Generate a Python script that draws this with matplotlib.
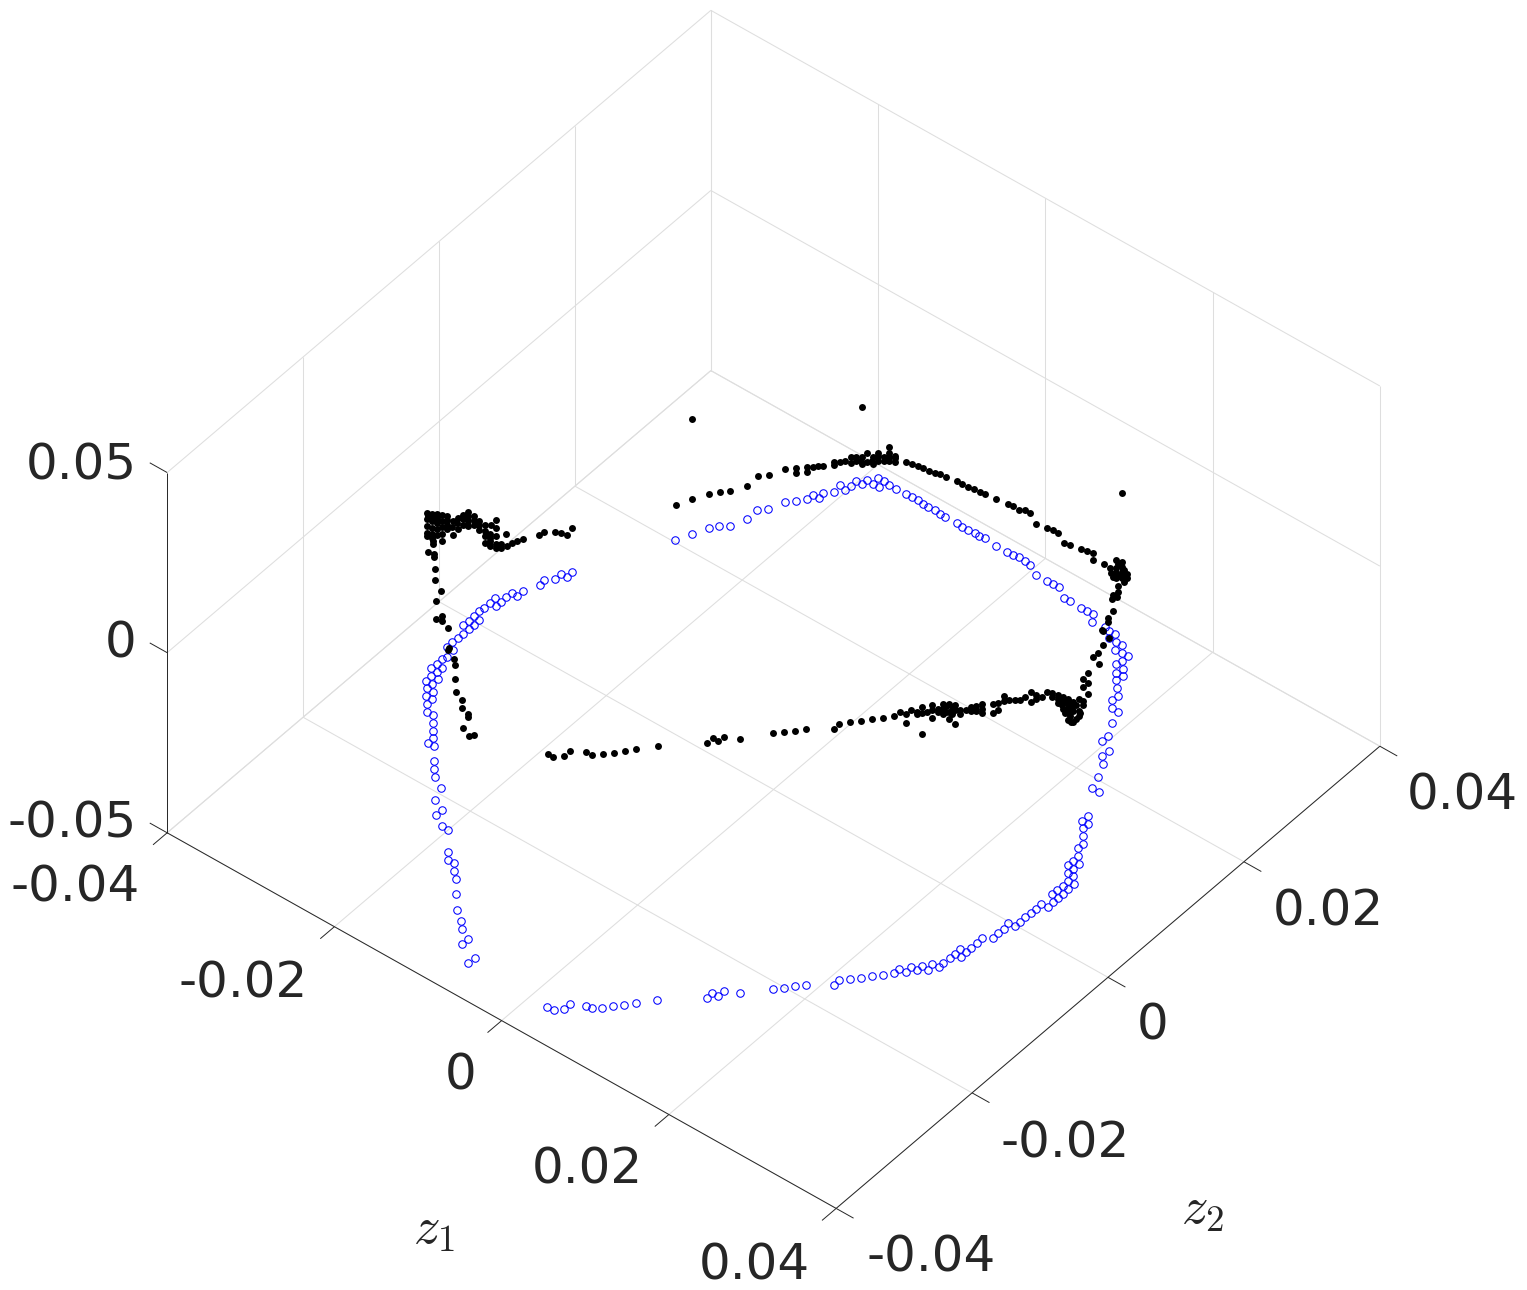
import numpy as np
import matplotlib
matplotlib.use("Agg")
import matplotlib.pyplot as plt
from mpl_toolkits.mplot3d import proj3d

# Embedding coordinates, stored in units of 1e-5
z1_blue = [
    -3288, -3286, -3356, -3357, -3428, -3416, -3491, -3488, -3554, -3559, -3549, -3553, -3626, -3628, -3621, -3629, -3623, -3554, -3547, -3619, -3626, -3552,
    -3553, -3555, -3560, -3563, -3490, -3479, -3493, -3418, -3492, -3497, -3418, -3425, -3350, -3421, -3350, -3351, -3282, -3292, -3220, -3220, -3153, -3082,
    -3014, -2949, -2884, -2882, -2810, -2681, -2616, -2544, -2413, -2347, -2212, -2208, -2075, -2003, -1810, -1743, -1674, -1607, -1529, -1399, -1260, -1137,
    -1060, -932, -933, -720, -730, 208, 282, 350, 346, 483, 547, 615, 681, 748, 817, 944, 1288, 1279, 1350, 1353, 1483, 1687,
    1762, 1821, 1891, 2093, 2085, 2158, 2229, 2291, 2362, 2424, 2424, 2498, 2492, 2564, 2566, 2637, 2622, 2696, 2693, 2697, 2699, 2768,
    2695, 2762, 2769, 2763, 2759, 2833, 2832, 2837, 2822, 2896, 2896, 2896, 2902, 2901, 2897, 2968, 2965, 2897, 2965, 2891, 2971, 2896,
    2970, 2964, 2900, 2894, 2831, 2829, 2761, 2832, 2763, 2759, 2694, 2688, 2623, 2557, 2558, 2485, 2490, 2283, 2366, 203, 274, 338,
    469, 543, 678, 746, 814, 875, 1014, 1071, 1142, 1134, 1210, 1281, 1277, 1346, 1417, 1416, 1406, 1491, 1476, 1555, 1543, 1618,
    1686, 1685, 1750, 1820, 1879, 1956, 1954, 2089, 2085, 2160, 2229, -2098, -2018, -2015, -2019, -1950, -1944, -1876, -1884, -1819, -1807, -1745,
    -1668, -1544, -1476, -1412, -1338, -1276, -1205, -1136, -1075, -935, -868, -799, -728, -669, -604, -462, -333, -264, -201, -131, -57, 75,
    -2821, -2746, -2682, -2622, -2548, -2480, -2486, -2418, -2351, -2278, -2216, -2213, -2142, -2154, -2080,
]
z2_blue = [
    1085, 1000, 1007, 920, 845, 763, 605, 522, 520, 447, 357, 285, 363, 288, 200, 137, 51, 44, -37, -32, -107, -115,
    -192, -267, -345, -424, -426, -527, -584, -667, -658, -731, -741, -821, -818, -899, -898, -974, -975, -1057, -1057, -1136, -1214, -1213,
    -1296, -1376, -1456, -1533, -1533, -1692, -1771, -1844, -1927, -2087, -2160, -2243, -2324, -2324, -2556, -2639, -2635, -2718, -2793, -2953, -3109, -3193,
    -3273, -3342, -3429, -3504, -3591, -3587, -3579, -3507, -3423, -3347, -3346, -3274, -3193, -3115, -3031, -2870, -2557, -2478, -2472, -2396, -2312, -2078,
    -2008, -1918, -1844, -1680, -1596, -1524, -1450, -1365, -1290, -1205, -1131, -1128, -1047, -1047, -977, -976, -890, -882, -815, -726, -650, -651,
    -568, -570, -496, -409, -332, -261, -176, -103, -22, -14, 60, 141, 214, 293, 375, 382, 460, 537, 534, 618, 608, 691,
    683, 774, 769, 850, 850, 930, 931, 1006, 1007, 1089, 1169, 1245, 1330, 1407, 1484, 1481, 1567, 1880, 1872, 3777, 3778, 3779,
    3695, 3697, 3693, 3697, 3693, 3612, 3632, 3621, 3627, 3539, 3544, 3545, 3456, 3465, 3466, 3379, 3308, 3302, 3222, 3222, 3144, 3066,
    2989, 2910, 2830, 2823, 2671, 2510, 2432, 2360, 2271, 2193, 2036, 3558, 3537, 3614, 3696, 3695, 3770, 3766, 3858, 3858, 3770, 3849,
    3848, 3852, 3856, 3857, 3848, 3846, 3852, 3850, 3848, 3848, 3844, 3848, 3854, 3850, 3858, 3845, 3847, 3851, 3862, 3856, 3847, 3772,
    2026, 2183, 2345, 2428, 2498, 2664, 2819, 2897, 3061, 3137, 3222, 3298, 3299, 3381, 3452,
]
z1_black = [
    -2819, -2750, -2679, -2614, -2546, -2479, -2487, -2422, -2364, -2302, -2263, -2237, -2195, -2200, -2171, -2139, -2101, -2073, -2064, -2040, -2036, -1985,
    -2001, -1964, -1908, -1961, -1885, -1885, -1828, -1839, -1789, -1816, -1732, -1695, -1691, -1640, -1540, -1477, -1409, -1342, -1270, -1207, -1146, -1072,
    -950, -886, -803, -739, -667, -609, -466, -327, -259, -178, -126, -57, 80, 202, 271, 333, 469, 536, 674, 744, 812, 874,
    1006, 1099, 1160, 1212, 1147, 1191, 1212, 1250, 1271, 1339, 1310, 1351, 1391, 1404, 1391, 1435, 1448, 1506, 1504, 1690, 1858, 1961,
    1976, 1995, 2086, 2096, 2236, 2277, 2442, 2362, 2418, 2417, 2476, 2554, 2467, 2526, 2545, 2514, 2561, 2747, 2579, 2543, 2591, 2656,
    2604, 2585, 2627, 2675, 2611, 2682, 2738, 2646, 2694, 2806, 2712, 2752, 2726, 2716, 2750, 2724, 2763, 2717, 2759, 2793, 2792, 2871,
    2820, 2885, 2804, 2843, 2860, 2884, 2905, 2892, 2852, 2936, 2868, 2904, 2900, 2876, 2902, 2939, 2887, 2923, 2872, 2920, 2976, 2831,
    2873, 2944, 3008, 2829, 2899, 2998, 2772, 2871, 2913, 2744, 2781, 2679, 2587, 2632, 2562, 2502, 217, 282, 345, 346, 481, 548,
    617, 684, 750, 816, 952, 1288, 1288, 1355, 1358, 1494, 1690, 1760, 1832, 1894, 2097, 2096, 2162, 2229, 2298, -1779, -1803, -1642,
    -1562, -1438, -1272, -1138, -1053, -922, -950, -848, -730, -698, -3291, -3267, -3314, -3353, -3418, -3422, -3488, -3495, -3507, -3609, -3502, -3548,
    -3777, -3706, -3636, -3571, -3671, -3609, -3567, -3661, -3604, -3748, -3763, -3657, -3733, -3710, -3640, -3716, -3644, -3596, -3663, -3584, -3611, -3521,
    -3563, -3451, -3585, -3515, -3473, -3508, -3396, -3340, -3525, -3454, -3398, -3484, -3428, -3371, -3315, -3401, -3345, -3288, -3267, -3239, -3041, -2978,
    -2952, -2813, -2555, -2412, -2340, -2218, -2214, -2140, -2019, -3454, -3461, -3496, -3557, -3456, -3550, -3510, -3563, -3627, -3679, -3676, -3690, -3703,
    -3634, -3535, -3511, -3263, -3353, -3287, -3440, 2948, 2982, 2907, 2961, 2873, 2836, 2954, 3006, 2881, 2953, 2875, -1968, -1935, -1858, -1802,
    -1747, -1768, -1671, -1870, 1268, 1149, 1299, 1347, 1264, 2634, 2620, 2656, 2671, 2715, 2639, -2750, -1951, 1348,
]
z2_black = [
    2028, 2187, 2341, 2423, 2495, 2659, 2826, 2908, 3077, 3162, 3113, 3244, 3192, 3282, 3325, 3363, 3478, 3444, 3516, 3565, 3639, 3577,
    3674, 3712, 3643, 3791, 3698, 3777, 3707, 3803, 3821, 3936, 3832, 3788, 3870, 3808, 3843, 3849, 3853, 3853, 3849, 3855, 3862, 3855,
    3862, 3861, 3853, 3858, 3857, 3859, 3849, 3846, 3845, 3833, 3849, 3847, 3762, 3778, 3782, 3779, 3700, 3701, 3698, 3695, 3696, 3619,
    3627, 3690, 3694, 3631, 3537, 3573, 3468, 3499, 3558, 3557, 3426, 3459, 3492, 3432, 3359, 3297, 3208, 3204, 3133, 2910, 2634, 2508,
    2406, 2396, 2369, 2267, 2022, 1894, 1779, -1290, -1197, -1112, -1100, -1197, -1017, -1000, -1024, -912, -970, -1198, -919, -791, -851, -930,
    -779, -682, -734, -793, -630, -717, -786, -589, -648, -786, -593, -642, -526, -440, -482, -367, -416, -279, -331, -373, -210, -307,
    -166, -246, -62, -111, -50, 5, 53, 147, 275, 172, 334, 289, 378, 485, 532, 486, 629, 585, 721, 661, 593, 853,
    802, 714, 636, 930, 844, 722, 1079, 958, 906, 1181, 1136, 1334, 1448, 1319, 1406, 1552, -3587, -3585, -3505, -3423, -3348, -3347,
    -3270, -3191, -3111, -3030, -2874, -2558, -2478, -2478, -2402, -2326, -2082, -2006, -1933, -1846, -1689, -1610, -1530, -1451, -1373, -2595, -2555, -2675,
    -2763, -2911, -3105, -3186, -3286, -3359, -3325, -3528, -3580, -3546, 1088, 976, 955, 915, 833, 764, 602, 531, 462, 504, 383, 355,
    560, 473, 387, 307, 345, 269, 217, 255, 186, 450, 385, 171, 264, 158, 72, 82, -7, -66, -57, -154, -204, -313,
    -336, -474, -388, -474, -526, -556, -694, -763, -618, -705, -774, -742, -811, -881, -949, -917, -987, -1056, -994, -1028, -1337, -1330,
    -1362, -1523, -1836, -1928, -2090, -2231, -2156, -2239, -2308, -852, -770, -649, -501, -625, -435, -411, -273, -105, 31, 116, 207, 307,
    300, 262, 311, -1083, -826, -980, -851, 618, 620, 756, 718, 857, 961, 816, 679, 744, 553, 972, 3633, 3666, 3733, 3753,
    3773, 3873, 3841, 3836, 3433, 3653, 3483, 3498, 3600, -820, -685, -642, -748, -714, -782, 2187, 3700, 3467,
]
z3_black = [
    -4030, -4030, -4030, -4030, -4031, -4061, -4080, -4100, -4129, -4149, -4149, -4169, -4169, -4182, -4193, -4205, -4229, -4229, -4242, -4253, -4265, -4265,
    -4277, -4289, -4289, -4302, -4302, -4290, -4290, -4252, -4216, -4179, -4179, -4179, -4140, -4140, -4093, -4067, -4041, -4016, -3991, -3965, -3940, -3916,
    -3879, -3861, -3839, -3819, -3798, -3781, -3726, -3669, -3642, -3612, -3586, -3559, -3548, -3525, -3513, -3502, -3468, -3436, -3371, -3339, -3307, -3307,
    -3258, -3116, -3108, -3059, -3040, -3040, -2983, -2983, -3002, -2976, -2926, -2926, -2926, -2922, -2922, -2922, -2854, -2819, -2771, -2513, -2043, -1817,
    -1843, -1849, -1872, -1898, -1551, -1386, -1194, 2146, 2114, 2097, 2081, 2081, 2066, 2049, 2049, 2030, 2030, 2030, 1987, 1940, 1940, 1940,
    1889, 1846, 1846, 1846, 1797, 1797, 1797, 1749, 1749, 1749, 1704, 1704, 1613, 1534, 1534, 1446, 1446, 1370, 1370, 1370, 1356, 1356,
    1350, 1350, 1336, 1336, 1280, 1223, 1172, 1114, 975, 975, 837, 837, 734, 669, 611, 611, 386, 386, 166, 166, 166, -166,
    -166, -166, -166, -386, -386, -386, -607, -607, -607, -853, -853, -983, -983, -853, -853, -983, 2008, 2008, 2008, 2008, 2024, 2027,
    2031, 2036, 2040, 2045, 2054, 2074, 2077, 2079, 2081, 2088, 2102, 2106, 2111, 2115, 2127, 2129, 2133, 2138, 2142, 706, 686, 783,
    845, 849, 1034, 1119, 1152, 1208, 1191, 1256, 1287, 1285, -3781, -3754, -3726, -3694, -3637, -3613, -3562, -3519, -3472, -3423, -3429, -3381,
    -3333, -3333, -3333, -3333, -3247, -3247, -3247, -3154, -3154, -3258, -3172, -2827, -2827, -2507, -2507, -2275, -2275, -2275, -2071, -2071, -1843, -1843,
    -1660, -1660, -1465, -1465, -1465, -1233, -1233, -1233, -968, -968, -968, -716, -716, -716, -716, -465, -465, -465, -767, -767, -233, -217,
    -197, -97, 430, 460, 537, 434, 402, 466, 540, -465, -716, -983, -1219, -1219, -1454, -1634, -1814, -2059, -2263, -2507, -2809, -3154,
    -3247, -3333, -3381, -480, -983, -732, -530, 208, 28, -152, -241, -330, -490, -490, -285, 28, 374, -679, -4277, -4288, -4294, -4254,
    -4214, -4181, -4141, -4254, -2945, -3094, -2957, -2945, -3025, 1891, 1823, 1772, 1823, 1772, 1866, -1814, -2867, -568,
]
z3_blue_level = -0.05

xy_ticks = [-0.04, -0.02, 0, 0.02, 0.04]
xy_labels = ["-0.04", "-0.02", "0", "0.02", "0.04"]
z_ticks = [-0.05, 0, 0.05]
z_labels = ["-0.05", "0", "0.05"]

W, H = 1527, 1290
xmin, xmax = xy_ticks[0], xy_ticks[-1]
zmin, zmax = z_ticks[0], z_ticks[-1]
dark = (0.15, 0.15, 0.15)
grid_col = (0.87, 0.87, 0.87)

plt.rcParams["mathtext.fontset"] = "cm"
fig = plt.figure(figsize=(W / 100, H / 100), dpi=100)
ax = fig.add_axes([0, 0, 1, 1], projection="3d")
ax.set_proj_type("ortho")
ax.view_init(elev=43.7, azim=-50.9)
ax.set_box_aspect((1, 1, 0.578))
ax.set_xlim(xmin, xmax)
ax.set_ylim(xmin, xmax)
ax.set_zlim(zmin, zmax)
ax.set_axis_off()


def to_pixels(x, y, z):
    px, py, _ = proj3d.proj_transform(x, y, z, ax.get_proj())
    return ax.transData.transform((px, py))


# Scale and shift the axes so the floor of the box lands where it should
ax.apply_aspect()
a = to_pixels(xmin, xmin, zmin)
b = to_pixels(xmax, xmin, zmin)
c = to_pixels(xmax, xmax, zmin)
d = to_pixels(xmin, xmax, zmin)
scale = 669.0 / (b[0] - a[0])
centre = (a + b + c + d) / 4
new_c = np.array([773.5, H - 789.5]) - scale * (centre - np.array([W / 2, H / 2]))
side = H * scale
ax.set_position([(new_c[0] - side / 2) / W, (new_c[1] - side / 2) / H, side / W, side / H])


def seg(p, q, col, lw):
    ax.plot([p[0], q[0]], [p[1], q[1]], [p[2], q[2]], color=col, lw=lw, clip_on=False, solid_capstyle="butt")


# Grid on the floor and on the two back walls
for t in xy_ticks:
    seg((t, xmin, zmin), (t, xmax, zmin), grid_col, 0.75)
    seg((xmin, t, zmin), (xmax, t, zmin), grid_col, 0.75)
    seg((xmin, t, zmin), (xmin, t, zmax), grid_col, 0.75)
    seg((t, xmax, zmin), (t, xmax, zmax), grid_col, 0.75)
for t in z_ticks:
    seg((xmin, xmin, t), (xmin, xmax, t), grid_col, 0.75)
    seg((xmin, xmax, t), (xmax, xmax, t), grid_col, 0.75)

# Axis lines and outward ticks
tick = 0.026 * (xmax - xmin)
seg((xmin, xmin, zmin), (xmax, xmin, zmin), dark, 0.7)
seg((xmax, xmin, zmin), (xmax, xmax, zmin), dark, 0.7)
seg((xmin, xmin, zmin), (xmin, xmin, zmax), dark, 0.7)
for t in xy_ticks:
    seg((t, xmin, zmin), (t, xmin - tick, zmin), dark, 0.7)
    seg((xmax, t, zmin), (xmax + tick, t, zmin), dark, 0.7)
for t in z_ticks:
    seg((xmin, xmin, t), (xmin - tick, xmin, t), dark, 0.7)

# The blue ring sits on the floor, the black points hang above it
bx = np.array(z1_blue) * 1e-5
by = np.array(z2_blue) * 1e-5
ax.plot(bx, by, np.full(len(bx), z3_blue_level), "o", mfc="none", mec="b", ms=5.4, mew=0.75, ls="none", clip_on=False)
ax.plot(np.array(z1_black) * 1e-5, np.array(z2_black) * 1e-5, np.array(z3_black) * 1e-5,
        "o", color="k", ms=5.0, mew=0, ls="none", clip_on=False)


def label(x, y, s, **kw):
    fig.text(x / W, 1 - y / H, s, ha="center", va="center", color=dark, **kw)


for pos, s in zip([(75, 888), (243, 983), (461, 1076), (587, 1170), (754, 1266)], xy_labels):
    label(pos[0], pos[1], s, fontsize=36)
for pos, s in zip([(931, 1258), (1065, 1143), (1153, 1026), (1328, 911), (1462, 796)], xy_labels):
    label(pos[0], pos[1], s, fontsize=36)
for pos, s in zip([(72, 823), (121, 643), (81, 465)], z_labels):
    label(pos[0], pos[1], s, fontsize=36)
label(434, 1228, r"$z_1$", fontsize=38)
label(1203, 1208, r"$z_2$", fontsize=38)

fig.savefig("out.png", dpi=100)
